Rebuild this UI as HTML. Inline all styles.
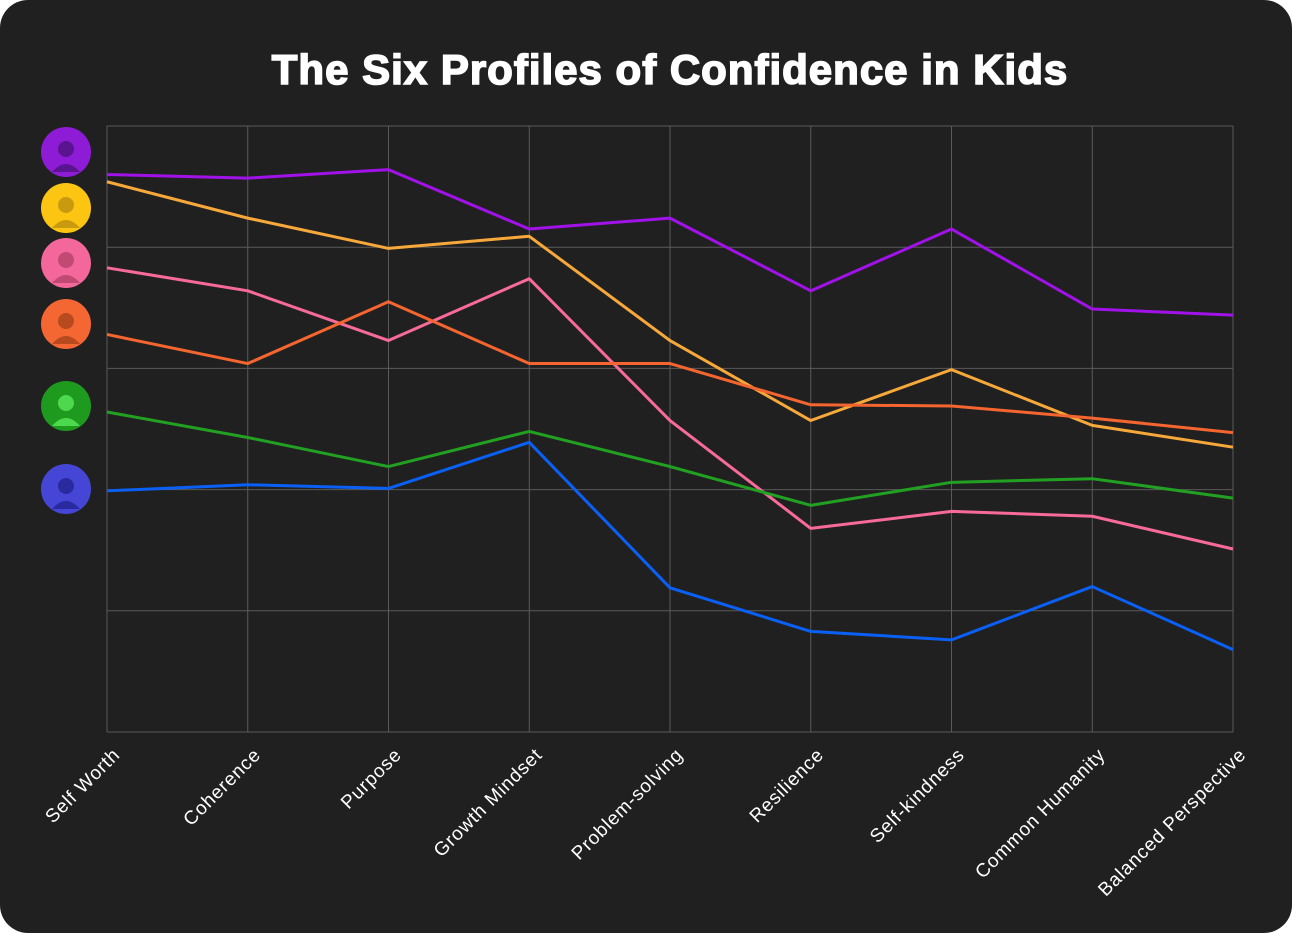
<!DOCTYPE html>
<html><head><meta charset="utf-8"><style>
html,body{margin:0;padding:0;background:#fff;}
#card{position:absolute;left:0;top:0;width:1292px;height:933px;background:#202020;border-radius:28px;overflow:hidden;}
svg text{font-family:"Liberation Sans",sans-serif;}
</style></head><body>
<div id="card">
<svg id="chart" width="1292" height="933">
<text x="670" y="84" text-anchor="middle" fill="#fff" stroke="#fff" stroke-width="1.6" font-size="42" letter-spacing="1" font-weight="bold">The Six Profiles of Confidence in Kids</text>
<g id="grid"></g><g id="avatars"></g><g id="lines"></g><g id="xlabels"></g>
</svg>
</div>
<script>
const categories=["Self Worth","Coherence","Purpose","Growth Mindset","Problem-solving","Resilience","Self-kindness","Common Humanity","Balanced Perspective"];
const purple=[4.60,4.57,4.64,4.15,4.24,3.64,4.15,3.49,3.44];
const amber=[4.54,4.24,3.99,4.09,3.23,2.57,2.99,2.53,2.35];
const pink=[3.83,3.64,3.23,3.74,2.57,1.68,1.82,1.78,1.51];
const redOrange=[3.28,3.04,3.55,3.04,3.04,2.70,2.69,2.59,2.47];
const green=[2.64,2.43,2.19,2.48,2.19,1.87,2.06,2.09,1.93];
const blue=[1.99,2.04,2.01,2.39,1.19,0.83,0.76,1.20,0.68];
const yTicks=[0,1,2,3,4,5];
const NS="http://www.w3.org/2000/svg";
const x0=107,x1=1233,yTop=126,yBot=732,yMax=5;
const xs=i=>x0+i*(x1-x0)/(categories.length-1);
const ys=v=>yBot-v*(yBot-yTop)/yMax;
function mk(t,a,p){const e=document.createElementNS(NS,t);for(const k in a)e.setAttribute(k,a[k]);p.appendChild(e);return e;}
const grid=document.getElementById('grid');
yTicks.forEach(t=>{const l=mk('line',{x1:x0,x2:x1,y1:ys(t),y2:ys(t),stroke:'#5a5a5a','stroke-width':1},grid);

});
categories.forEach((c,i)=>{const l=mk('line',{x1:xs(i),x2:xs(i),y1:yTop,y2:yBot,stroke:'#5a5a5a','stroke-width':1},grid);

});
const series=[[purple,'#a112e8','purple'],[amber,'#f7a83a','amber'],[pink,'#f76a9a','pink'],[redOrange,'#f46530','red-orange'],[green,'#22a022','green'],[blue,'#0a60f5','blue']];
const lg=document.getElementById('lines');
series.forEach(s=>{const p=mk('polyline',{points:s[0].map((v,i)=>xs(i)+','+ys(v)).join(' '),fill:'none',stroke:s[1],'stroke-width':3,'stroke-linejoin':'round'},lg);

});
const av=document.getElementById('avatars');
const avatarCols=[['#8e1bd6','#5a1490'],['#fcc512','#c99a10'],['#f4679a','#c04a72'],['#f46632','#b84a20'],['#1e9a1e','#4ed84e'],['#4646d6','#2a2aa0']];
const avY=[152,208,263,324,406,489];
avatarCols.forEach((c,i)=>{const g=mk('g',{},av);


mk('circle',{cx:66,cy:avY[i],r:25,fill:c[0]},g);
mk('circle',{cx:66,cy:avY[i]-3,r:8,fill:c[1]},g);
mk('path',{d:`M52 ${avY[i]+20} Q66 ${avY[i]+4} 80 ${avY[i]+20} Z`,fill:c[1]},g);});
const xl=document.getElementById('xlabels');
categories.forEach((c,i)=>{const ax=xs(i)+14,ay=756;const t=mk('text',{x:ax,y:ay,'text-anchor':'end',fill:'#fff','font-size':19,'letter-spacing':0.8,transform:`rotate(-45 ${ax} ${ay})`},xl);
t.textContent=c;

});
</script>
</body></html>
